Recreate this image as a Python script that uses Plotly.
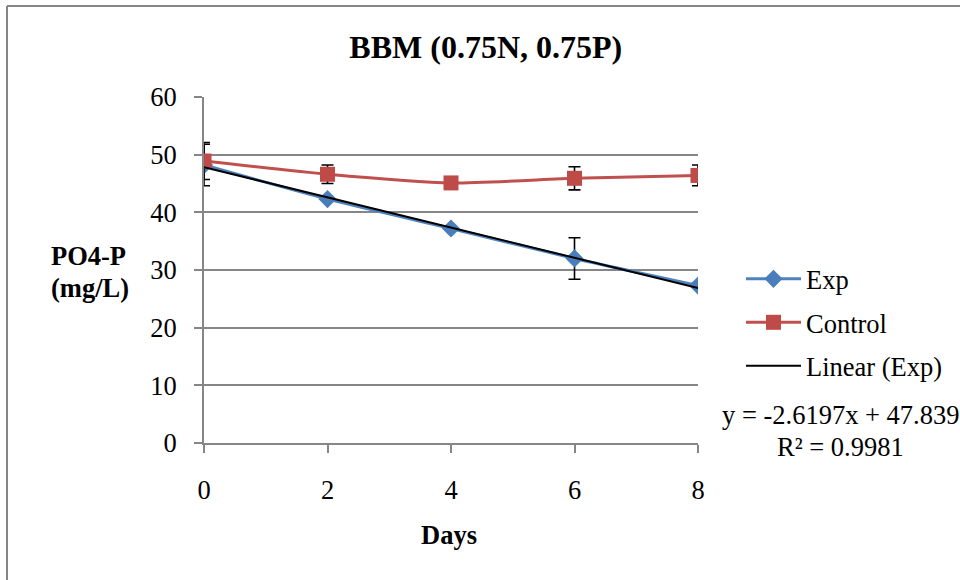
import numpy as np
import plotly.graph_objects as go

# Sampling days and measured PO4-P concentrations (mg/L)
days = [0, 2, 4, 6, 8]
exp_vals = [48.2, 42.3, 37.2, 32.0, 27.3]
exp_err = [3.6, 0.0, 0.0, 3.6, 0.4]
control_vals = [48.9, 46.6, 45.1, 45.9, 46.4]
control_err = [3.2, 1.6, 0.0, 2.0, 1.8]

# Linear trend fitted to the Exp series
trend_slope = -2.6197
trend_intercept = 47.839
trend_r2 = 0.9981

y_ticks = [0, 10, 20, 30, 40, 50, 60]
x_ticks = [0, 2, 4, 6, 8]

FONT = "Liberation Serif, Times New Roman, serif"
GRID = "#868686"
FS = 26.5

trend_x = np.array([days[0], days[-1]], dtype=float)
trend_y = trend_slope * trend_x + trend_intercept

fig = go.Figure()

fig.add_trace(go.Scatter(
    x=days, y=exp_vals, name="Exp", mode="lines+markers",
    line=dict(color="#4F81BD", width=3, shape="spline", smoothing=0.6),
    marker=dict(symbol="diamond", size=14, color="#4A7EBB"),
    error_y=dict(type="data", array=exp_err, visible=True,
                 color="black", thickness=1.6, width=6),
    legendgroup="a",
))
fig.add_trace(go.Scatter(
    x=days, y=control_vals, name="Control", mode="lines+markers",
    line=dict(color="#C0504D", width=3, shape="spline", smoothing=0.6),
    marker=dict(symbol="square", size=15, color="#BE4B48"),
    error_y=dict(type="data", array=control_err, visible=True,
                 color="black", thickness=1.6, width=6),
    legendgroup="b",
))
fig.add_trace(go.Scatter(
    x=trend_x, y=trend_y, name="Linear (Exp)", mode="lines",
    line=dict(color="black", width=2),
    legendgroup="c",
))

fig.update_layout(
    width=960, height=580,
    margin=dict(l=204, r=262, t=97, b=137),
    paper_bgcolor="white", plot_bgcolor="white",
    font=dict(family=FONT, size=FS, color="black"),
    title=dict(text="<b>BBM (0.75N, 0.75P)</b>", font=dict(size=32),
               xref="container", x=0.506, xanchor="center",
               yref="container", y=1 - 47 / 580, yanchor="middle"),
    showlegend=True,
    legend=dict(x=1.087, xanchor="left", y=0.543, yanchor="top",
                font=dict(size=FS), tracegroupgap=6,
                bgcolor="rgba(0,0,0,0)", itemwidth=55),
    xaxis=dict(range=[0, 8], tickvals=x_ticks, showgrid=False,
               showline=True, linecolor=GRID, linewidth=2,
               ticks="outside", ticklen=8, tickcolor=GRID, tickwidth=2,
               ticklabelstandoff=14, zeroline=False,
               tickfont=dict(family=FONT, size=FS)),
    yaxis=dict(range=[0, 60], tickvals=y_ticks, showgrid=True,
               gridcolor=GRID, gridwidth=1.5,
               showline=True, linecolor=GRID, linewidth=2,
               ticks="outside", ticklen=8, tickcolor=GRID, tickwidth=2,
               ticklabelstandoff=12, zeroline=False,
               tickfont=dict(family=FONT, size=FS)),
)

# Horizontal two-line y-axis title
for line_text, y_px in (("<b>PO4-P</b>", 256), ("<b>(mg/L)</b>", 288)):
    fig.add_annotation(text=line_text, xref="paper", yref="paper",
                       x=(49 - 204) / 494, y=(443 - y_px) / 346,
                       xanchor="left", yanchor="middle",
                       showarrow=False, font=dict(size=FS))
fig.add_annotation(text="<b>Days</b>", xref="paper", yref="paper",
                   x=(449 - 204) / 494, y=(443 - 535) / 346,
                   xanchor="center", yanchor="middle",
                   showarrow=False, font=dict(size=FS))
fig.add_annotation(text=f"y = {trend_slope}x + {trend_intercept}",
                   xref="paper", yref="paper", x=(840 - 204) / 494,
                   y=(443 - 415) / 346, xanchor="center", yanchor="middle",
                   showarrow=False, font=dict(size=FS))
fig.add_annotation(text=f"R² = {trend_r2}",
                   xref="paper", yref="paper", x=(840 - 204) / 494,
                   y=(443 - 447) / 346, xanchor="center", yanchor="middle",
                   showarrow=False, font=dict(size=FS))

# Chart-area frame along the top and left edges
fig.add_shape(type="line", xref="paper", yref="paper",
              x0=(7 - 204) / 494, x1=(960 - 204) / 494,
              y0=(443 - 6) / 346, y1=(443 - 6) / 346,
              line=dict(color=GRID, width=2))
fig.add_shape(type="line", xref="paper", yref="paper",
              x0=(7 - 204) / 494, x1=(7 - 204) / 494,
              y0=(443 - 6) / 346, y1=(443 - 590) / 346,
              line=dict(color=GRID, width=2))

fig.write_html("out.html")
